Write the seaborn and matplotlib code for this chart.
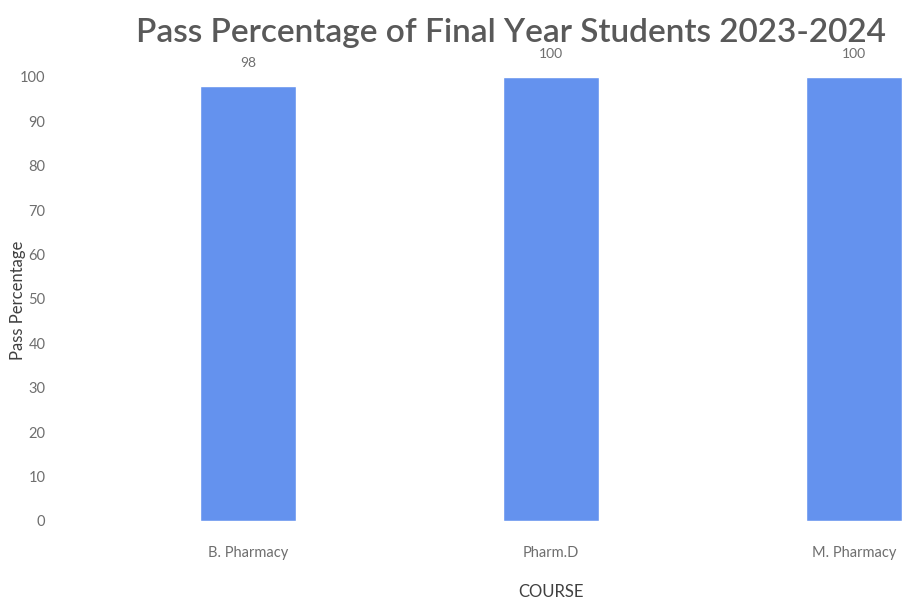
import matplotlib
matplotlib.use("Agg")
import matplotlib.pyplot as plt
import seaborn as sns
import pandas as pd

courses = ["B. Pharmacy", "Pharm.D", "M. Pharmacy"]
pass_pct = [98, 100, 100]
yticks = list(range(0, 101, 10))

sns.set_theme(style="white")
plt.rcParams['font.family'] = ['Lato', 'DejaVu Sans']

df = pd.DataFrame({"COURSE": courses, "Pass Percentage": pass_pct})

fig = plt.figure(figsize=(9.15, 6.04), dpi=100)
left_px, right_px, bottom_px, top_px = 62, 915, 521, 77
ax = fig.add_axes([left_px / 915, (604 - bottom_px) / 604,
                   (right_px - left_px) / 915, (bottom_px - top_px) / 604])

sns.barplot(data=df, x="COURSE", y="Pass Percentage", color="#6492EE",
            width=0.32, ax=ax, saturation=1)

ppu = 303.0
c0 = 248.0
ax.set_xlim((left_px - c0) / ppu, (right_px - c0) / ppu)
ax.set_ylim(0, 100)
ax.set_yticks(yticks)
ax.set_yticklabels([str(t) for t in yticks])
for s in ax.spines.values():
    s.set_visible(False)
ax.tick_params(axis='both', colors="#6e6e6e", labelsize=10.5, length=0)
ax.tick_params(axis='y', pad=12)
ax.tick_params(axis='x', pad=18)

for i, v in enumerate(pass_pct):
    ax.annotate(str(v), (i, v), xytext=(0, 12), textcoords="offset points",
                ha="center", va="bottom", fontsize=10, color="#6e6e6e")

ax.set_xlabel("")
ax.set_ylabel("")
fig.text(551 / 915, 1 - 592 / 604, "COURSE", ha="center", va="center",
         fontsize=12, color="#404040")
fig.text(18 / 915, 1 - 300 / 604, "Pass Percentage", ha="center", va="center",
         rotation=90, fontsize=12, color="#404040")
fig.text(511 / 915, 1 - 33 / 604, "Pass Percentage of Final Year Students 2023-2024",
         ha="center", va="center", fontsize=24, fontweight="semibold", color="#595959")

fig.savefig("out.png", dpi=100)
